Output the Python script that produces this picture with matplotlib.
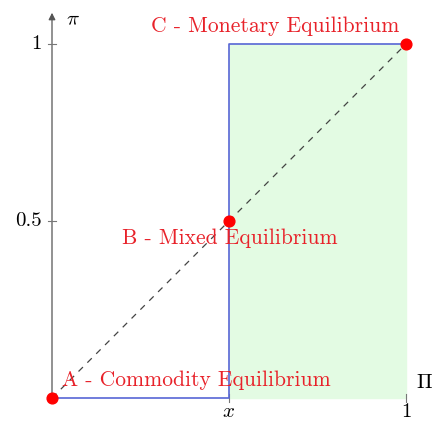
import numpy as np
import matplotlib.pyplot as plt

plt.rcParams['mathtext.fontset'] = 'cm'
plt.rcParams['font.family'] = ['cmr10', 'DejaVu Serif']

# data
eq_x = [0, 0.5, 1]
eq_y = [0, 0.5, 1]
eq_labels = ["A - Commodity Equilibrium", "B - Mixed Equilibrium", "C - Monetary Equilibrium"]
step_x = [0, 0.5, 0.5, 1]
step_y = [0, 0, 1, 1]
xticks = [0.5, 1]
xticklabels = [r"$x$", "1"]
yticks = [0.5, 1]
yticklabels = ["0.5", "1"]

px = 1 / 354  # one pixel in data units

fig = plt.figure(figsize=(4.33, 4.23), dpi=100)
ax = fig.add_axes([0, 0, 1, 1])
ax.set_xlim(-52 * px, 381 * px)
ax.set_ylim(-25 * px, 398 * px)
ax.axis('off')

# shaded region
ax.fill_between([0.5, 1], 0, 1, color='#e3fbe3', zorder=1)

# axes with arrows
ax.annotate('', xy=(1.2, 0), xytext=(0, 0),
            arrowprops=dict(arrowstyle='-|>', color='#555555', lw=0.9), zorder=2)
ax.annotate('', xy=(0, 388 * px), xytext=(0, 0),
            arrowprops=dict(arrowstyle='-|>', color='#555555', lw=0.9,
                            mutation_scale=10), zorder=2)
ax.text(364 * px, 15 * px, r"$\Pi$", fontsize=15, ha='left', va='center')
ax.text(14 * px, 378 * px, r"$\pi$", fontsize=15, ha='left', va='center')

# ticks
for t, lab in zip(xticks, xticklabels):
    ax.plot([t, t], [-0.01, 0.01], color='#777777', lw=0.8)
    ax.text(t, -0.04, lab, fontsize=15, ha='center', va='center')
for t, lab in zip(yticks, yticklabels):
    ax.plot([-0.01, 0.01], [t, t], color='#777777', lw=0.8)
    ax.text(-0.03, t, lab, fontsize=15, ha='right', va='center')

# diagonal and step line
ax.plot([0, 1], [0, 1], color='#444444', lw=0.9, ls=(0, (5, 5)), zorder=3)
ax.plot(step_x, step_y, color='#5866d6', lw=1.2, zorder=3)

# equilibria
ax.scatter(eq_x, eq_y, s=60, color='#ff0000', zorder=5, clip_on=False)
ax.text(10 * px, 18 * px, eq_labels[0],
        fontsize=15.5, color='#e8222a', ha='left', va='center', zorder=4)
ax.text(178 * px, 160 * px, eq_labels[1],
        fontsize=15.5, color='#e8222a', ha='center', va='center', zorder=4)
ax.text(223 * px, 372 * px, eq_labels[2],
        fontsize=15.5, color='#e8222a', ha='center', va='center', zorder=4)

fig.savefig('out.png', dpi=100)
